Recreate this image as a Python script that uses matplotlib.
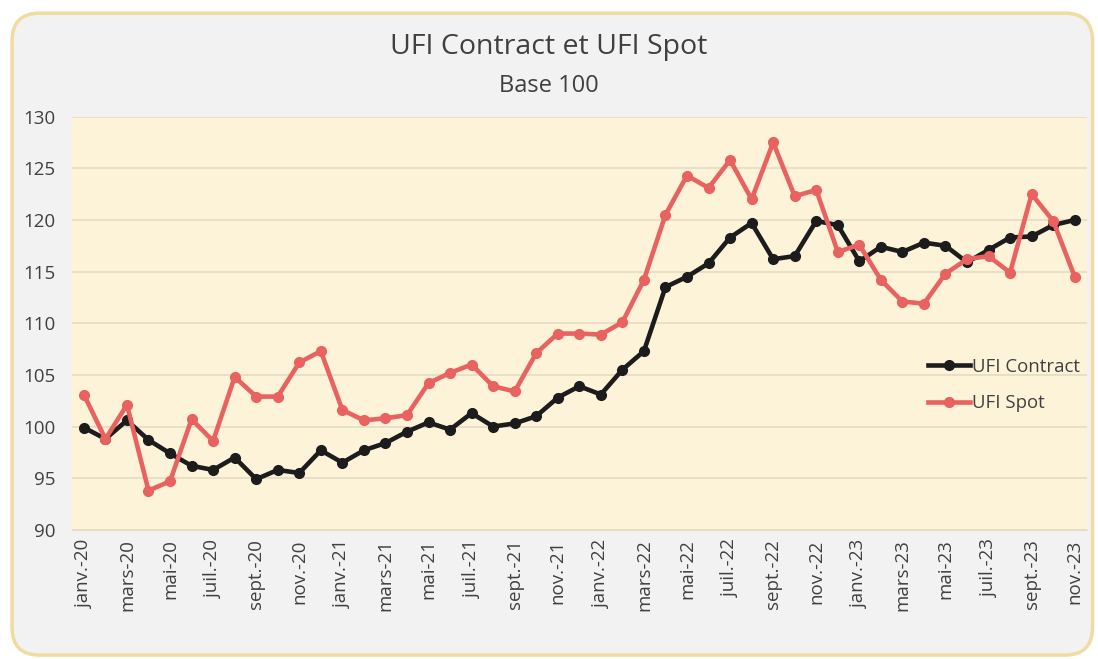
import matplotlib
matplotlib.use("Agg")
import matplotlib.pyplot as plt
import numpy as np
from matplotlib.patches import FancyBboxPatch

plt.rcParams['font.family'] = ['Open Sans', 'DejaVu Sans']

# Months from janv.-20 to nov.-23
mois = ['janv.', 'févr.', 'mars', 'avr.', 'mai', 'juin',
        'juil.', 'août', 'sept.', 'oct.', 'nov.', 'déc.']
labels = []
for an in ['20', '21', '22', '23']:
    for m in mois:
        labels.append(m + '-' + an)
labels = labels[:47]

ufi_contract = [99.9, 98.8, 100.6, 98.7, 97.4, 96.2, 95.8, 97.0, 94.9, 95.8, 95.5, 97.7,
                96.5, 97.7, 98.4, 99.5, 100.4, 99.7, 101.3, 100.0, 100.3, 101.0, 102.8, 103.9,
                103.1, 105.5, 107.3, 113.5, 114.5, 115.8, 118.3, 119.7, 116.2, 116.5, 119.9, 119.5,
                116.0, 117.4, 116.9, 117.8, 117.5, 115.9, 117.1, 118.3, 118.4, 119.5, 120.0]

ufi_spot = [103.1, 98.8, 102.1, 93.8, 94.7, 100.7, 98.6, 104.8, 102.9, 102.9, 106.2, 107.3,
            101.6, 100.6, 100.8, 101.1, 104.2, 105.2, 106.0, 103.9, 103.4, 107.1, 109.0, 109.0,
            108.9, 110.1, 114.2, 120.5, 124.3, 123.1, 125.8, 122.0, 127.5, 122.3, 122.9, 116.9,
            117.6, 114.2, 112.1, 111.9, 114.8, 116.2, 116.5, 114.9, 122.5, 119.9, 114.5]

fig = plt.figure(figsize=(10.98, 6.59), dpi=100, facecolor='white')

# rounded card behind the chart
card = FancyBboxPatch((0.011, 0.006), 0.984, 0.974,
                      boxstyle="round,pad=0,rounding_size=0.025",
                      transform=fig.transFigure, facecolor='#f2f2f2',
                      edgecolor='#efdca0', linewidth=2.5, mutation_aspect=1.67,
                      zorder=-10)
fig.patches.append(card)

ax = fig.add_axes([0.0656, 0.196, 0.924, 0.627])
ax.set_facecolor('#fdf3d8')

x = np.arange(len(labels))
ax.plot(x, ufi_contract, color='#1c1c1c', lw=3.3, marker='o', ms=7, label='UFI Contract')
ax.plot(x, ufi_spot, color='#e8625f', lw=3.3, marker='o', ms=7, label='UFI Spot')

ax.set_xlim(-0.55, 46.55)
ax.set_ylim(90, 130)
ax.set_yticks(np.arange(90, 131, 5))
ax.yaxis.grid(True, color='#e6dcc4', lw=1.2)
ax.set_axisbelow(True)

ax.set_xticks(x[::2])
ax.set_xticklabels(labels[::2], rotation=90, fontsize=13.5, color='#404040')
ax.set_xticks(x, minor=True)
ax.tick_params(axis='x', which='both', length=0, pad=7)
ax.tick_params(axis='y', length=0, labelsize=13.5, labelcolor='#404040', pad=12)
for s in ax.spines.values():
    s.set_visible(False)
ax.spines['bottom'].set_visible(True)
ax.spines['bottom'].set_color('#e6dcc4')

fig.text(0.5, 0.928, 'UFI Contract et UFI Spot', ha='center', va='center',
         fontsize=20.5, color='#404040')
fig.text(0.5, 0.869, 'Base 100', ha='center', va='center',
         fontsize=17, color='#404040')

ax.legend(loc='upper left', bbox_to_anchor=(0.827, 0.457), frameon=False,
          fontsize=13.4, handlelength=2.25, handletextpad=0.15, labelspacing=1.0,
          labelcolor='#404040')

plt.savefig('out.png', dpi=100, facecolor='white')
